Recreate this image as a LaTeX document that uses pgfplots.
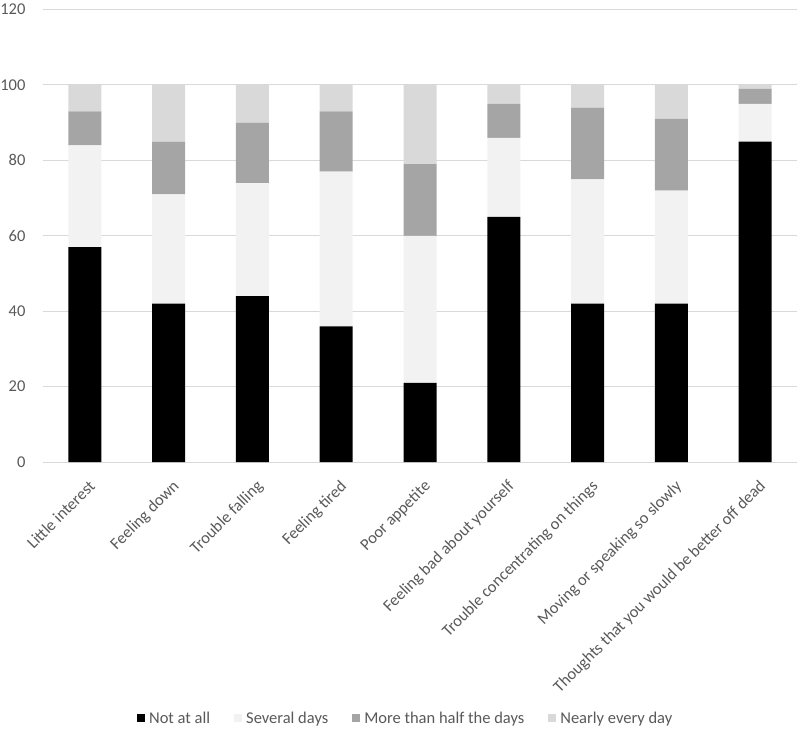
\documentclass[border=0pt]{standalone}
\usepackage{fontspec}
\setmainfont{Carlito}
\usepackage{pgfplots}
\usepackage{pgfplotstable}
\pgfplotsset{compat=1.18}

\definecolor{notatall}{HTML}{000000}
\definecolor{several}{HTML}{F2F2F2}
\definecolor{morehalf}{HTML}{A5A5A5}
\definecolor{nearly}{HTML}{D9D9D9}
\definecolor{txt}{HTML}{595959}
\definecolor{gridc}{HTML}{D9D9D9}

% PHQ-9 answers, percent of respondents
\pgfplotstableread{
idx notatall several morehalf nearly
0   57 27  9  7
1   42 29 14 15
2   44 30 16 10
3   36 41 16  7
4   21 39 19 21
5   65 21  9  5
6   42 33 19  6
7   42 30 19  9
8   85 10  4  1
}\phq

\begin{document}
\begin{tikzpicture}
\useasboundingbox (-43pt,-266pt) rectangle (757pt,462pt);
\begin{axis}[
    at={(0,0)}, anchor=south west,
    scale only axis,
    width=754pt, height=452.4pt,
    ybar stacked,
    bar width=33pt,
    xmin=-0.5, xmax=8.5,
    ymin=0, ymax=120,
    ytick={0,20,...,120},
    xtick=data,
    xticklabels={{Little interest},{Feeling down},{Trouble falling},{Feeling tired},{Poor appetite},{Feeling bad about yourself},{Trouble concentrating on things},{Moving or speaking so slowly},{Thoughts that you would be better off dead}},
    axis line style={draw=none},
    tick style={draw=none},
    ymajorgrids,
    grid style={gridc, line width=1pt},
    /pgf/number format/assume math mode=true,
    tick label style={font=\fontsize{16.5}{19}\selectfont, text=txt},
    yticklabel style={xshift=-14pt},
    xticklabel style={xshift=3pt, yshift=-14pt, rotate=45, anchor=north east, inner sep=2pt},
    legend style={at={(0.481,-0.566)}, anchor=center, draw=none,
        font=\fontsize{16.5}{19}\selectfont, text=txt,
        legend columns=4,
        /tikz/every even column/.append style={column sep=22pt}},
    legend image code/.code={\fill[#1] (0pt,-4pt) rectangle (8pt,4pt);},
    legend style={/tikz/every odd column/.append style={column sep=2pt}},
]
\addplot[fill=notatall, draw=none] table[x=idx, y=notatall] {\phq};
\addplot[fill=several, draw=none] table[x=idx, y=several] {\phq};
\addplot[fill=morehalf, draw=none] table[x=idx, y=morehalf] {\phq};
\addplot[fill=nearly, draw=none] table[x=idx, y=nearly] {\phq};
\legend{Not at all, Several days, More than half the days, Nearly every day}
\end{axis}
\end{tikzpicture}
\end{document}
